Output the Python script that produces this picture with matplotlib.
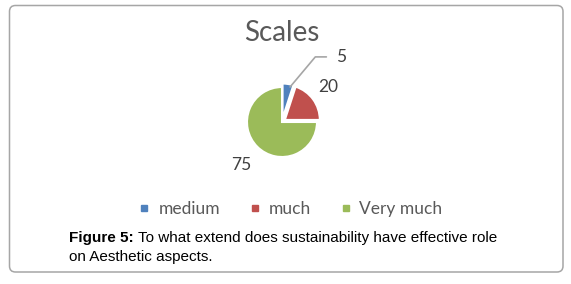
import matplotlib.pyplot as plt
from matplotlib.patches import FancyBboxPatch
from matplotlib.lines import Line2D

categorias = ["medium", "much", "Very much"]
valores = [5, 20, 75]
colores = ["#4f81bd", "#c0504d", "#9bbb59"]
titulo = "Scales"
pie_texto = "Figure 5:"
caption_1 = " To what extend does sustainability have effective role"
caption_2 = "on Aesthetic aspects."

W, H = 571, 284
fig = plt.figure(figsize=(W / 100, H / 100), dpi=100)

# fondo con borde redondeado (coordenadas en pixeles)
bg = fig.add_axes([0, 0, 1, 1])
bg.set_xlim(0, W)
bg.set_ylim(H, 0)
bg.axis("off")
bg.add_patch(FancyBboxPatch((9.5, 5.5), 553.5, 266.5,
                            boxstyle="round,pad=0,rounding_size=6",
                            fc="white", ec="#a6a6a6", lw=1.1))

# torta: centro (282,122) px, radio 35 px
cx, cy, R = 282, 122, 35
ax = fig.add_axes([(cx - 2 * R) / W, 1 - (cy + 2 * R) / H, 4 * R / W, 4 * R / H])
wedges, _ = ax.pie(valores, colors=colores, startangle=90, counterclock=False,
                   explode=[0.1, 0.1, 0], radius=1,
                   wedgeprops=dict(edgecolor="white", linewidth=1.5))
ax.set_xlim(-2, 2)
ax.set_ylim(-2, 2)
ax.set_aspect("equal")
ax.axis("off")

fnt = "Lato"
etiq = dict(fontsize=12.5, color="#404040", family=fnt, ha="center", va="center")
ax.annotate(str(valores[0]), xy=(0.23, 1.0), xytext=(1.69, 1.86),
            arrowprops=dict(arrowstyle="-", color="#a6a6a6", lw=1.2,
                            connectionstyle="angle,angleA=0,angleB=50,rad=0",
                            shrinkA=5, shrinkB=0), **etiq)
ax.text(1.31, 1.0, str(valores[1]), **etiq)
ax.text(-1.17, -1.23, str(valores[2]), **etiq)

fig.text(cx / W, 1 - 33 / H, titulo, fontsize=20, color="#595959", family=fnt,
         ha="center", va="center")

handles = [Line2D([], [], marker="s", ls="none", color=c, markersize=5) for c in colores]
fig.legend(handles, categorias, loc="center", bbox_to_anchor=(290 / W, 1 - 209 / H),
           ncol=3, frameon=False, handlelength=0.8, handletextpad=0.4,
           columnspacing=1.6, prop=dict(family=fnt, size=12.5), labelcolor="#595959")

t1 = fig.text(69 / W, 1 - 242 / H, pie_texto, fontsize=11, fontweight="bold",
              family="Liberation Sans", va="baseline")
fig.canvas.draw()
bb = t1.get_window_extent()
fig.text(bb.x1 / W, 1 - 242 / H, caption_1, fontsize=11,
         family="Liberation Sans", va="baseline")
fig.text(69 / W, 1 - 261 / H, caption_2, fontsize=11,
         family="Liberation Sans", va="baseline")

fig.savefig("out.png", dpi=100)
